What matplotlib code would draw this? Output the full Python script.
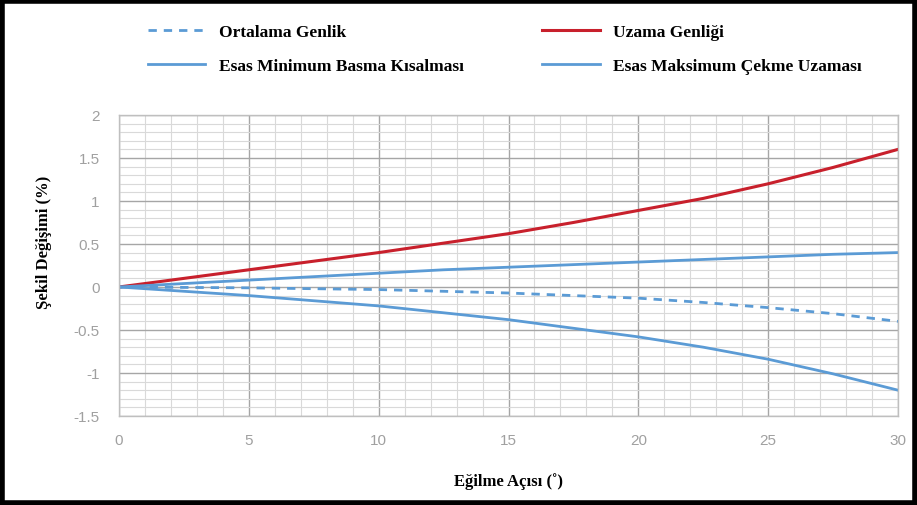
import numpy as np
import matplotlib.pyplot as plt
from matplotlib.patches import Rectangle
from matplotlib.lines import Line2D

# Eğilme açısı (derece)
aci = [0, 2.5, 5, 7.5, 10, 12.5, 15, 17.5, 20, 22.5, 25, 27.5, 30]

# Seriler (%)
uzama_genligi = [0, 0.10, 0.20, 0.30, 0.40, 0.51, 0.62, 0.75, 0.89, 1.03, 1.20, 1.39, 1.60]
maks_cekme = [0, 0.04, 0.08, 0.12, 0.16, 0.20, 0.23, 0.26, 0.29, 0.32, 0.35, 0.38, 0.40]
ortalama_genlik = [0, -0.005, -0.01, -0.02, -0.03, -0.05, -0.07, -0.10, -0.13, -0.18, -0.24, -0.31, -0.40]
min_basma = [0, -0.05, -0.10, -0.16, -0.22, -0.30, -0.38, -0.48, -0.58, -0.70, -0.84, -1.01, -1.20]

mavi = '#5b9bd5'
kirmizi = '#c8202c'
serif = 'Liberation Serif'

fig = plt.figure(figsize=(9.17, 5.06), dpi=100)
ax = fig.add_axes([0.1298, 0.1759, 0.8495, 0.5949])

ax.plot(aci, ortalama_genlik, color=mavi, lw=2, ls=(0, (3, 2.5)))
ax.plot(aci, uzama_genligi, color=kirmizi, lw=2.2)
ax.plot(aci, min_basma, color=mavi, lw=2)
ax.plot(aci, maks_cekme, color=mavi, lw=2)

ax.set_xlim(0, 30)
ax.set_ylim(-1.5, 2)
ax.set_xticks(np.arange(0, 31, 5))
ax.set_xticks(np.arange(0, 31, 1), minor=True)
ax.set_yticks(np.arange(-1.5, 2.01, 0.5))
ax.set_yticks(np.arange(-1.5, 2.01, 0.1), minor=True)
ax.set_yticklabels(['-1.5', '-1', '-0.5', '0', '0.5', '1', '1.5', '2'])

ax.grid(which='major', color='#a6a6a6', lw=1)
ax.grid(which='minor', color='#d9d9d9', lw=0.8)
ax.set_axisbelow(True)
for s in ax.spines.values():
    s.set_color('#bfbfbf')
    s.set_linewidth(1)
ax.tick_params(which='both', length=0)
ax.tick_params(axis='y', pad=14, labelsize=11, labelcolor='#a0a0a0')
ax.tick_params(axis='x', pad=12, labelsize=11, labelcolor='#a0a0a0')
for t in ax.get_xticklabels() + ax.get_yticklabels():
    t.set_family('Liberation Sans')

ax.set_xlabel('Eğilme Açısı (˚)', family=serif, fontweight='bold', fontsize=12, labelpad=18)
ax.set_ylabel('Şekil Değişimi (%)', family=serif, fontweight='bold', fontsize=12)
ax.yaxis.set_label_coords(-0.086, 0.58)

# Lejant
handles = [
    Line2D([], [], color=mavi, lw=2, ls=(0, (3, 2.5))),
    Line2D([], [], color=mavi, lw=2),
    Line2D([], [], color=kirmizi, lw=2.2),
    Line2D([], [], color=mavi, lw=2),
]
labels = ['Ortalama Genlik', 'Esas Minimum Basma Kısalması',
          'Uzama Genliği', 'Esas Maksimum Çekme Uzaması']
fig.legend(handles, labels, ncol=2, loc='upper left', bbox_to_anchor=(0.1614, 0.950),
           frameon=False, prop={'family': serif, 'weight': 'bold', 'size': 12.5},
           handlelength=3.3, handletextpad=0.8, columnspacing=4.5, labelspacing=1.0,
           borderpad=0, borderaxespad=0)

# Dış çerçeve
fig.patches.append(Rectangle((0.002, 0.003), 0.996, 0.994, transform=fig.transFigure,
                             fill=False, edgecolor='black', lw=4))

fig.savefig('out.png', dpi=100)
